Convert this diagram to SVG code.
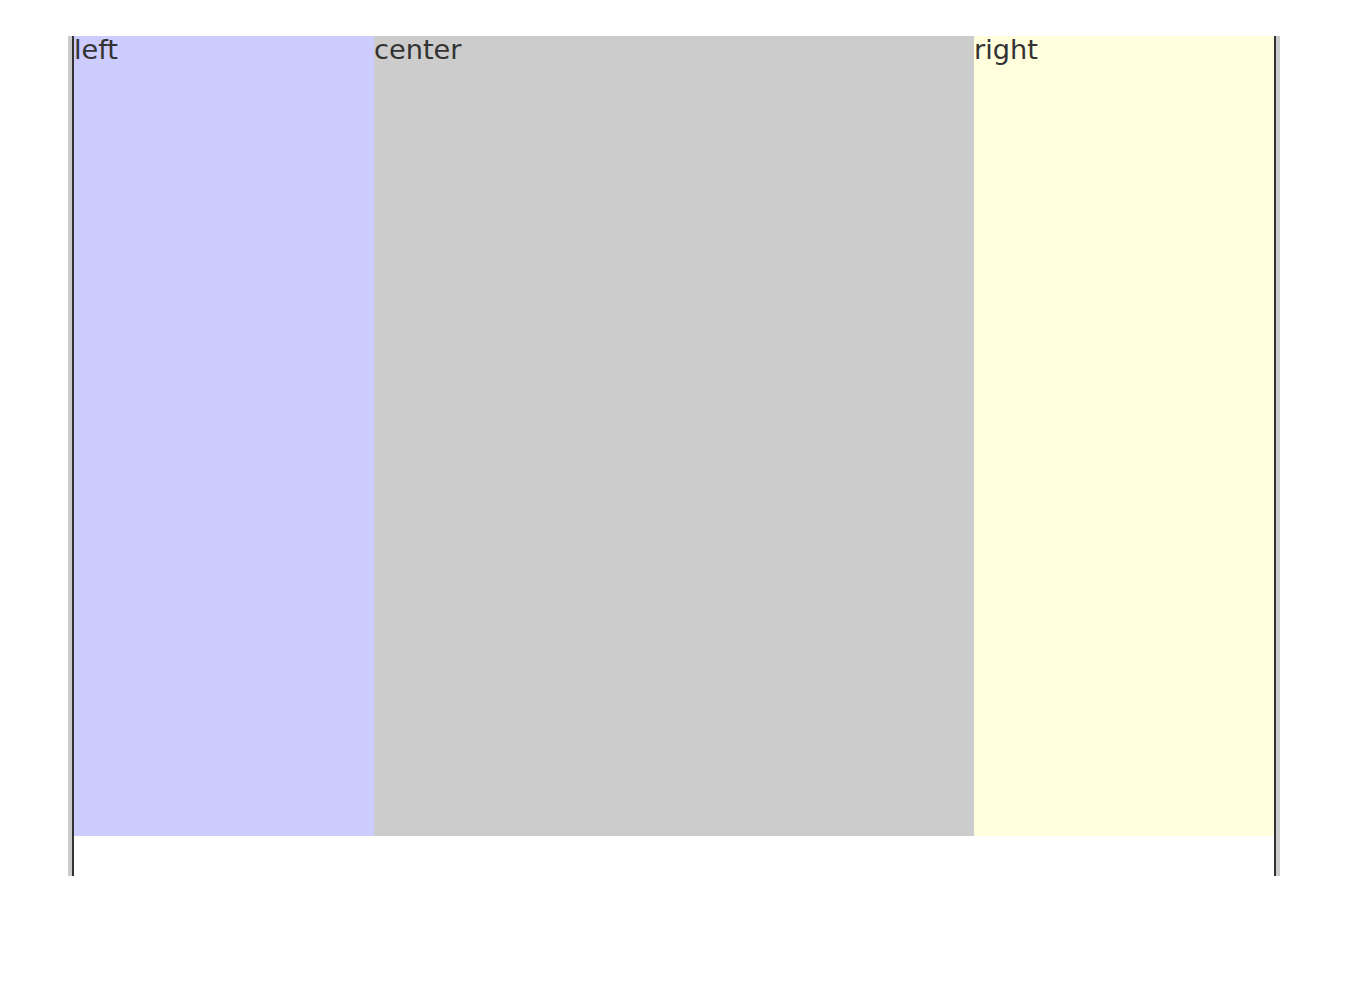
<svg xmlns="http://www.w3.org/2000/svg" width="1357" height="991" viewBox="0 0 1357 991">
<style>
text{font-family:"DejaVu Sans",sans-serif;font-size:27.2px;fill:#333}
.edge{fill:#ccc}
.bar{fill:#333}
</style>
<rect width="1357" height="991" fill="#fff"/>
<g id="frame">
<rect class="edge" x="68" y="36" width="4" height="840"/>
<rect class="bar" x="72" y="36" width="2" height="840"/>
<rect class="bar" x="1274" y="36" width="2" height="840"/>
<rect class="edge" x="1276" y="36" width="4" height="840"/>
</g>
<g id="left">
<rect x="74" y="36" width="300" height="800" fill="#ccf"/>
<text x="74" y="59">left</text>
</g>
<g id="center">
<rect x="374" y="36" width="600" height="800" fill="#ccc"/>
<text x="374" y="59">center</text>
</g>
<g id="right">
<rect x="974" y="36" width="300" height="800" fill="#ffd"/>
<text x="974" y="59">right</text>
</g>
<g id="connectors"></g>
</svg>
